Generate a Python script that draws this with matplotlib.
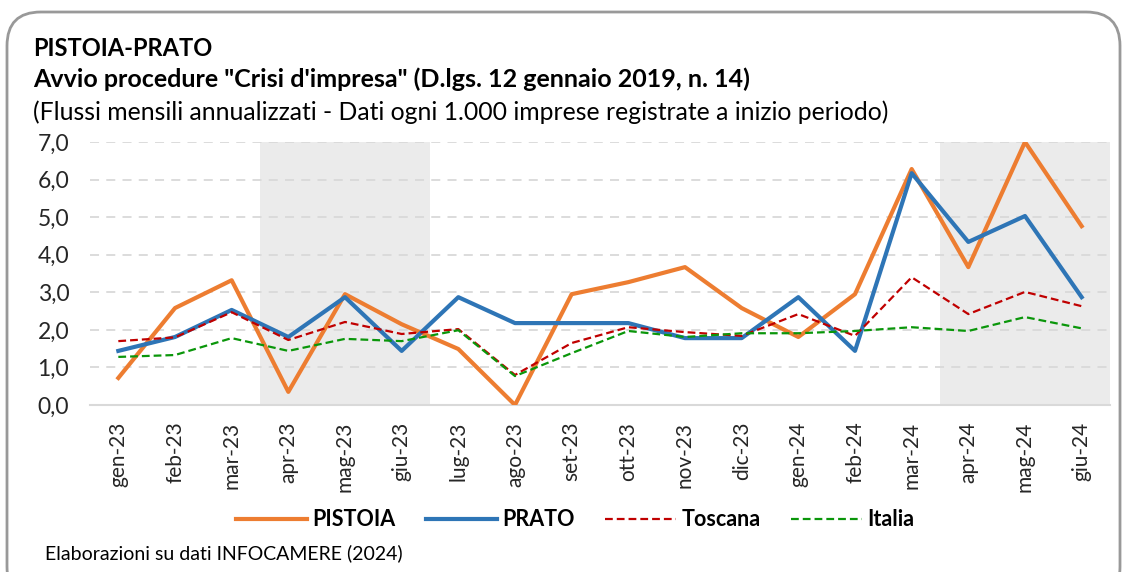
import matplotlib
matplotlib.use('Agg')
import matplotlib.pyplot as plt
from matplotlib.patches import FancyBboxPatch

MONTHS = ['gen-23', 'feb-23', 'mar-23', 'apr-23', 'mag-23', 'giu-23', 'lug-23', 'ago-23', 'set-23',
          'ott-23', 'nov-23', 'dic-23', 'gen-24', 'feb-24', 'mar-24', 'apr-24', 'mag-24', 'giu-24']
PISTOIA = [0.72, 2.58, 3.32, 0.35, 2.95, 2.15, 1.49, 0.0, 2.95, 3.27, 3.67, 2.58, 1.81, 2.95, 6.28, 3.67, 7.0, 4.76]
PRATO = [1.44, 1.81, 2.53, 1.81, 2.87, 1.44, 2.87, 2.18, 2.18, 2.18, 1.78, 1.78, 2.87, 1.44, 6.17, 4.34, 5.03, 2.87]
TOSCANA = [1.70, 1.80, 2.47, 1.73, 2.21, 1.89, 2.02, 0.80, 1.65, 2.07, 1.94, 1.84, 2.42, 1.84, 3.40, 2.42, 3.01, 2.63]
ITALIA = [1.28, 1.33, 1.78, 1.44, 1.76, 1.70, 1.99, 0.77, 1.38, 1.97, 1.81, 1.91, 1.91, 1.97, 2.07, 1.97, 2.34, 2.04]
SHADED = [('apr-23', 'giu-23'), ('apr-24', 'giu-24')]

plt.rcParams['font.family'] = ['Lato', 'DejaVu Sans']

W, H = 1127, 572
fig = plt.figure(figsize=(W / 100, H / 100), dpi=100)
ax = fig.add_axes([90 / W, 1 - 405 / H, (1110 - 90) / W, (405 - 142) / H])

x = range(len(MONTHS))
for a, b in SHADED:
    ax.axvspan(MONTHS.index(a) - 0.5, MONTHS.index(b) + 0.5, color='#ebebeb', lw=0, zorder=0)

ax.plot(x, PISTOIA, color='#ed7d31', lw=3.0, label='PISTOIA', zorder=3)
ax.plot(x, PRATO, color='#2e75b6', lw=3.0, label='PRATO', zorder=4)
ax.plot(x, TOSCANA, color='#c00000', lw=1.6, ls=(0, (3.5, 1.8)), label='Toscana', zorder=5)
ax.plot(x, ITALIA, color='#0a960a', lw=1.6, ls=(0, (3.5, 1.8)), label='Italia', zorder=5)

ax.set_xlim(-0.5, len(MONTHS) - 0.5)
ax.set_ylim(0, 7)
ax.set_yticks(range(8))
ax.set_yticklabels([f'{v},0' for v in range(8)], fontsize=16.5, color='#262626')
ax.set_xticks(list(x))
ax.set_xticklabels(MONTHS, rotation=90, fontsize=15, color='#262626')
ax.tick_params(length=0, pad=15)
ax.tick_params(axis='x', pad=12)
ax.yaxis.grid(True, color='#d9d9d9', ls=(0, (5, 4)), lw=1.3)
ax.set_axisbelow(True)
for s in ['left', 'right', 'top']:
    ax.spines[s].set_visible(False)
ax.spines['bottom'].set_color('#d9d9d9')
ax.spines['bottom'].set_linewidth(1.5)
ax.spines['bottom'].set_zorder(1)

fig.text(33 / W, 1 - 48 / H, 'PISTOIA-PRATO', fontsize=17, fontweight='bold', va='center', ha='left')
fig.text(33 / W, 1 - 79 / H, 'Avvio procedure "Crisi d\'impresa" (D.lgs. 12 gennaio 2019, n. 14)',
         fontsize=18, fontweight='bold', va='center', ha='left')
fig.text(33 / W, 1 - 112 / H, '(Flussi mensili annualizzati - Dati ogni 1.000 imprese registrate a inizio periodo)',
         fontsize=17.8, va='center', ha='left')
fig.text(45 / W, 1 - 553 / H, 'Elaborazioni su dati INFOCAMERE (2024)', fontsize=14, va='center', ha='left')

leg = fig.legend(loc='center', bbox_to_anchor=(575 / W, 1 - 520 / H), ncol=4, frameon=False,
                 handlelength=3.3, columnspacing=1.4, handletextpad=0.25,
                 prop={'size': 15.5, 'weight': 'bold'})

border = FancyBboxPatch((7 / W, -0.05), (1120 - 7) / W, 1 - 12 / H + 0.05,
                        boxstyle='round,pad=0,rounding_size=0.03', transform=fig.transFigure,
                        fill=False, edgecolor='#999999', lw=2, mutation_aspect=W / H)
fig.patches.append(border)

fig.savefig('out.png', dpi=100)
